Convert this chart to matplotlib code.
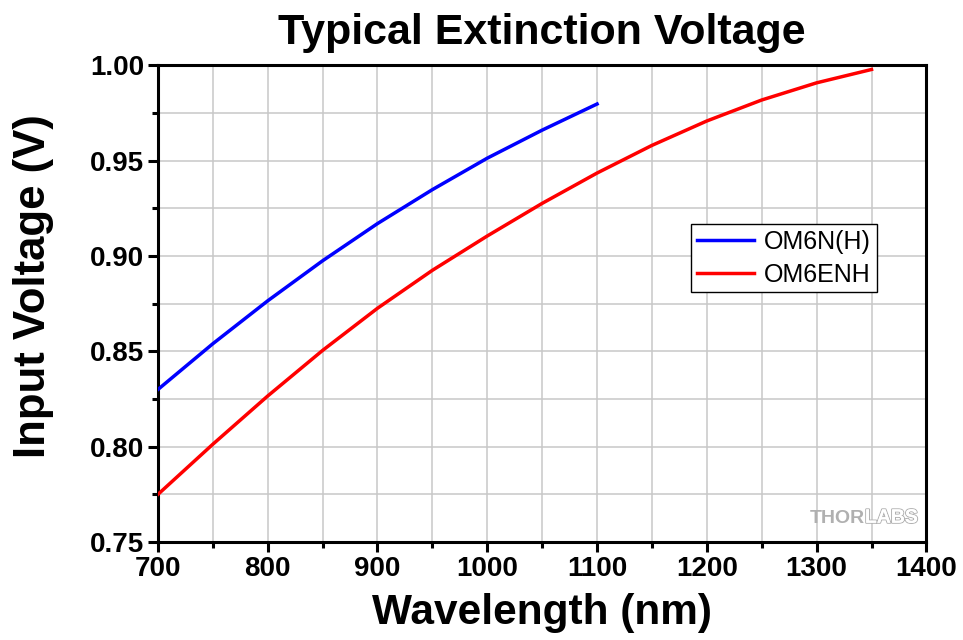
import matplotlib
matplotlib.use("Agg")
import matplotlib.pyplot as plt
from matplotlib.ticker import MultipleLocator, FormatStrFormatter
import matplotlib.patheffects as pe

plt.rcParams['font.family'] = ['Liberation Sans', 'DejaVu Sans']

wl_om6n = [700, 750, 800, 850, 900, 950, 1000, 1050, 1100]
v_om6n = [0.830, 0.854, 0.8765, 0.8975, 0.917, 0.9348, 0.9513, 0.966, 0.9797]

wl_om6enh = [700, 750, 800, 850, 900, 950, 1000, 1050, 1100, 1150, 1200, 1250, 1300, 1350]
v_om6enh = [0.775, 0.8013, 0.8266, 0.8505, 0.8726, 0.8925, 0.9105, 0.9276, 0.9435,
            0.958, 0.9708, 0.9818, 0.9908, 0.9978]

fig = plt.figure(figsize=(9.63, 6.4), dpi=100)
ax = fig.add_axes([0.164, 0.153, 0.798, 0.745])

ax.plot(wl_om6n, v_om6n, color='#0000ff', lw=2.5, label='OM6N(H)', zorder=3)
ax.plot(wl_om6enh, v_om6enh, color='#ff0000', lw=2.5, label='OM6ENH', zorder=3)

ax.set_xlim(700, 1400)
ax.set_ylim(0.75, 1.00)
ax.xaxis.set_major_locator(MultipleLocator(100))
ax.xaxis.set_minor_locator(MultipleLocator(50))
ax.yaxis.set_major_locator(MultipleLocator(0.05))
ax.yaxis.set_minor_locator(MultipleLocator(0.025))
ax.yaxis.set_major_formatter(FormatStrFormatter('%.2f'))

ax.grid(True, which='both', color='#c8c8c8', lw=1.1, zorder=0)
ax.set_axisbelow(True)

for s in ax.spines.values():
    s.set_linewidth(2.2)
    s.set_color('black')

ax.tick_params(which='major', direction='out', length=7, width=2.2, labelsize=20, pad=3)
ax.tick_params(which='minor', direction='out', length=4, width=2.2)
for lab in ax.get_xticklabels() + ax.get_yticklabels():
    lab.set_fontweight('bold')

ax.set_xlabel('Wavelength (nm)', fontsize=30.5, fontweight='bold', labelpad=8)
ax.set_ylabel('Input Voltage (V)', fontsize=31.5, fontweight='bold')
ax.yaxis.set_label_coords(-0.135, 0.537)
ax.set_title('Typical Extinction Voltage', fontsize=31, fontweight='bold', pad=15)

leg = ax.legend(loc='upper left', bbox_to_anchor=(0.694, 0.667), fontsize=18,
                frameon=True, fancybox=False, edgecolor='black', framealpha=1,
                handlelength=2.3, borderpad=0.22, labelspacing=0.36, handletextpad=0.4,
                borderaxespad=0)
leg.get_frame().set_linewidth(1.0)

ax.text(0.920, 0.050, 'THOR', transform=ax.transAxes, fontsize=14, fontweight='bold',
        color='#b0b0b0', ha='right', va='center')
ax.text(0.920, 0.050, 'LABS', transform=ax.transAxes, fontsize=14, fontweight='bold',
        color='white', ha='left', va='center',
        path_effects=[pe.withStroke(linewidth=1.5, foreground='#b0b0b0'), pe.Normal()])

fig.savefig('out.png', dpi=100)
